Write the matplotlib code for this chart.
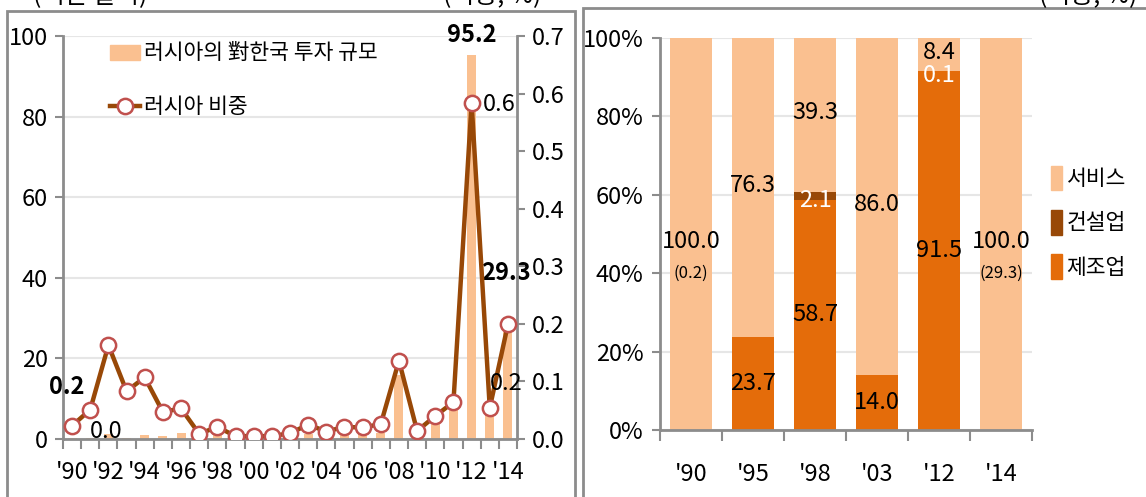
import matplotlib.pyplot as plt
from matplotlib.patches import Rectangle, Patch
from matplotlib.lines import Line2D
import numpy as np

plt.rcParams['font.family'] = ['Noto Sans CJK KR', 'DejaVu Sans']

# left chart data
years = list(range(1990, 2015))
invest = [0.2, 0.3, 1.2, 0.3, 1.0, 0.8, 1.4, 0.2, 1.2, 0.1, 0.2, 0.2, 0.5, 1.3,
          0.5, 1.0, 1.2, 1.5, 16.0, 0.3, 4.5, 8.2, 95.2, 6.5, 29.3]
share = [0.023, 0.051, 0.163, 0.083, 0.107, 0.047, 0.053, 0.009, 0.021, 0.005,
         0.005, 0.005, 0.010, 0.025, 0.013, 0.021, 0.020, 0.026, 0.136, 0.014,
         0.040, 0.064, 0.584, 0.054, 0.199]

# right chart data
periods = ["'90", "'95", "'98", "'03", "'12", "'14"]
manuf = [0.0, 23.7, 58.7, 14.0, 91.5, 0.0]
constr = [0.0, 0.0, 2.1, 0.0, 0.1, 0.0]
service = [100.0, 76.3, 39.3, 86.0, 8.4, 100.0]

c_bar = '#FAC090'
c_line = '#984807'
c_mark = '#C0504D'
c_man = '#E46C0A'
c_grid = '#E6E6E6'
c_spine = '#8C8C8C'
fs = 17

W, H = 1146, 497
fig = plt.figure(figsize=(W / 100, H / 100), dpi=100)


def fx(px):
    return px / W


def fy(py):
    return 1 - py / H


# panel borders
fig.add_artist(Rectangle((fx(7), fy(600)), fx(568), fy(11) - fy(600), transform=fig.transFigure,
                         fill=False, ec=c_spine, lw=2))
fig.add_artist(Rectangle((fx(583), fy(600)), fx(700), fy(8) - fy(600), transform=fig.transFigure,
                         fill=False, ec=c_spine, lw=2))
fig.text(fx(90), fy(-4), '(백만 달러)', ha='center', va='center', fontsize=18)
fig.text(fx(492), fy(-4), '(비중, %)', ha='center', va='center', fontsize=18)
fig.text(fx(1088), fy(-4), '(비중, %)', ha='center', va='center', fontsize=18)

# ---------- left chart ----------
ax = fig.add_axes([fx(63), fy(439), fx(517) - fx(63), fy(36) - fy(439)])
x = np.arange(len(years))
ax.bar(x, invest, width=0.5, color=c_bar, zorder=2)
ax.set_xlim(-0.5, len(years) - 0.5)
ax.set_ylim(0, 100)
ax.set_yticks(range(0, 101, 20))
ax.grid(axis='y', color=c_grid, lw=1.5, zorder=0)
ax.set_axisbelow(True)
ax.set_xticks(np.arange(-0.5, len(years), 1))
ax.set_xticklabels([])
ax.set_xticks(x[::2], minor=True)
ax.set_xticklabels(["'%02d" % (y % 100) for y in years[::2]], minor=True)
ax.tick_params(axis='x', which='minor', length=0, labelsize=fs, pad=16)
ax.tick_params(axis='x', which='major', length=7, width=1.5, color=c_spine)
ax.tick_params(axis='y', length=6, width=1.5, color=c_spine, labelsize=fs, pad=5)
for s in ['top', 'right']:
    ax.spines[s].set_visible(False)
for s in ['left', 'bottom']:
    ax.spines[s].set_color(c_spine)
    ax.spines[s].set_linewidth(2)

ax2 = ax.twinx()
ax2.plot(x, share, color=c_line, lw=3.2, marker='o', ms=11, mfc='white', mec=c_mark, mew=1.8,
         zorder=3)
ax2.set_ylim(0, 0.7)
ax2.set_yticks(np.arange(0, 0.71, 0.1))
ax2.set_yticklabels(['%.1f' % v for v in np.arange(0, 0.71, 0.1)])
ax2.tick_params(axis='y', length=6, width=1.5, color=c_spine, labelsize=fs, pad=5)
for s in ['top', 'left', 'bottom']:
    ax2.spines[s].set_visible(False)
ax2.spines['right'].set_color(c_spine)
ax2.spines['right'].set_linewidth(2)

# data labels
ax.text(x[22], invest[22] + 2, '%.1f' % invest[22], ha='center', va='bottom', fontsize=fs,
        fontweight='bold')
ax.text(x[24] - 0.1, invest[24] + 9, '%.1f' % invest[24], ha='center', va='bottom', fontsize=fs,
        fontweight='bold')
ax.text(x[0] - 0.3, 13, '%.1f' % invest[0], ha='center', va='center', fontsize=fs,
        fontweight='bold')
ax2.text(x[22] + 0.6, share[22] - 0.003, '%.1f' % share[22], ha='left', va='center', fontsize=fs)
ax2.text(x[24] - 0.1, 0.096, '%.1f' % share[24], ha='center', va='center', fontsize=fs)
ax2.text(x[1] + 0.9, 0.013, '%.1f' % share[0], ha='center', va='center', fontsize=fs)

handles = [Patch(color=c_bar),
           Line2D([], [], color=c_line, lw=3.2, marker='o', ms=11, mfc='white', mec=c_mark,
                  mew=1.8)]
ax2.legend(handles, ['러시아의 對한국 투자 규모', '러시아 비중'], loc='upper left',
           bbox_to_anchor=(0.07, 1.02), frameon=False, fontsize=15.5, handlelength=1.4,
           handletextpad=0.2, labelspacing=1.45, borderaxespad=0.3)

# ---------- right chart ----------
bx = fig.add_axes([fx(660), fy(430), fx(1032) - fx(660), fy(38) - fy(430)])
xr = np.arange(len(periods))
bw = 0.68
bx.bar(xr, manuf, width=bw, color=c_man, zorder=2)
bx.bar(xr, constr, width=bw, bottom=manuf, color=c_line, zorder=2)
bot2 = [m + c for m, c in zip(manuf, constr)]
bx.bar(xr, service, width=bw, bottom=bot2, color=c_bar, zorder=2)
bx.set_xlim(-0.5, len(periods) - 0.5)
bx.set_ylim(0, 100)
bx.set_yticks(range(0, 101, 20))
bx.set_yticklabels(['%d%%' % v for v in range(0, 101, 20)])
bx.grid(axis='y', color=c_grid, lw=1.5, zorder=0)
bx.set_axisbelow(True)
bx.set_xticks(np.arange(-0.5, len(periods), 1))
bx.set_xticklabels([])
bx.set_xticks(xr, minor=True)
bx.set_xticklabels(periods, minor=True)
bx.tick_params(axis='x', which='minor', length=0, labelsize=fs, pad=24)
bx.tick_params(axis='x', which='major', length=8, width=1.5, color=c_spine)
bx.tick_params(axis='y', length=6, width=1.5, color=c_spine, labelsize=fs, pad=6)
for s in ['top', 'right']:
    bx.spines[s].set_visible(False)
for s in ['left', 'bottom']:
    bx.spines[s].set_color(c_spine)
    bx.spines[s].set_linewidth(2)

for i in range(len(periods)):
    if manuf[i] > 0:
        bx.text(xr[i], manuf[i] / 2, '%.1f' % manuf[i], ha='center', va='center', fontsize=fs)
    if constr[i] > 0:
        bx.text(xr[i], manuf[i] + constr[i] / 2 - 1.2, '%.1f' % constr[i], ha='center',
                va='center', fontsize=fs, color='white')
    if service[i] < 100:
        bx.text(xr[i], bot2[i] + service[i] / 2 + 0.6, '%.1f' % service[i], ha='center',
                va='center', fontsize=fs)
bx.text(xr[0], 48, '%.1f' % service[0], ha='center', va='center', fontsize=fs)
bx.text(xr[0], 40, '(%.1f)' % invest[0], ha='center', va='center', fontsize=12)
bx.text(xr[5], 48, '%.1f' % service[5], ha='center', va='center', fontsize=fs)
bx.text(xr[5], 40, '(%.1f)' % invest[24], ha='center', va='center', fontsize=12)

rh = [Patch(color=c_bar), Patch(color=c_line), Patch(color=c_man)]
bx.legend(rh, ['서비스', '건설업', '제조업'], loc='center left', bbox_to_anchor=(1.0, 0.53),
          frameon=False, fontsize=15.5, handlelength=0.5, handleheight=1.4, handletextpad=0.2,
          labelspacing=0.9)

fig.savefig('out.png', dpi=100)
